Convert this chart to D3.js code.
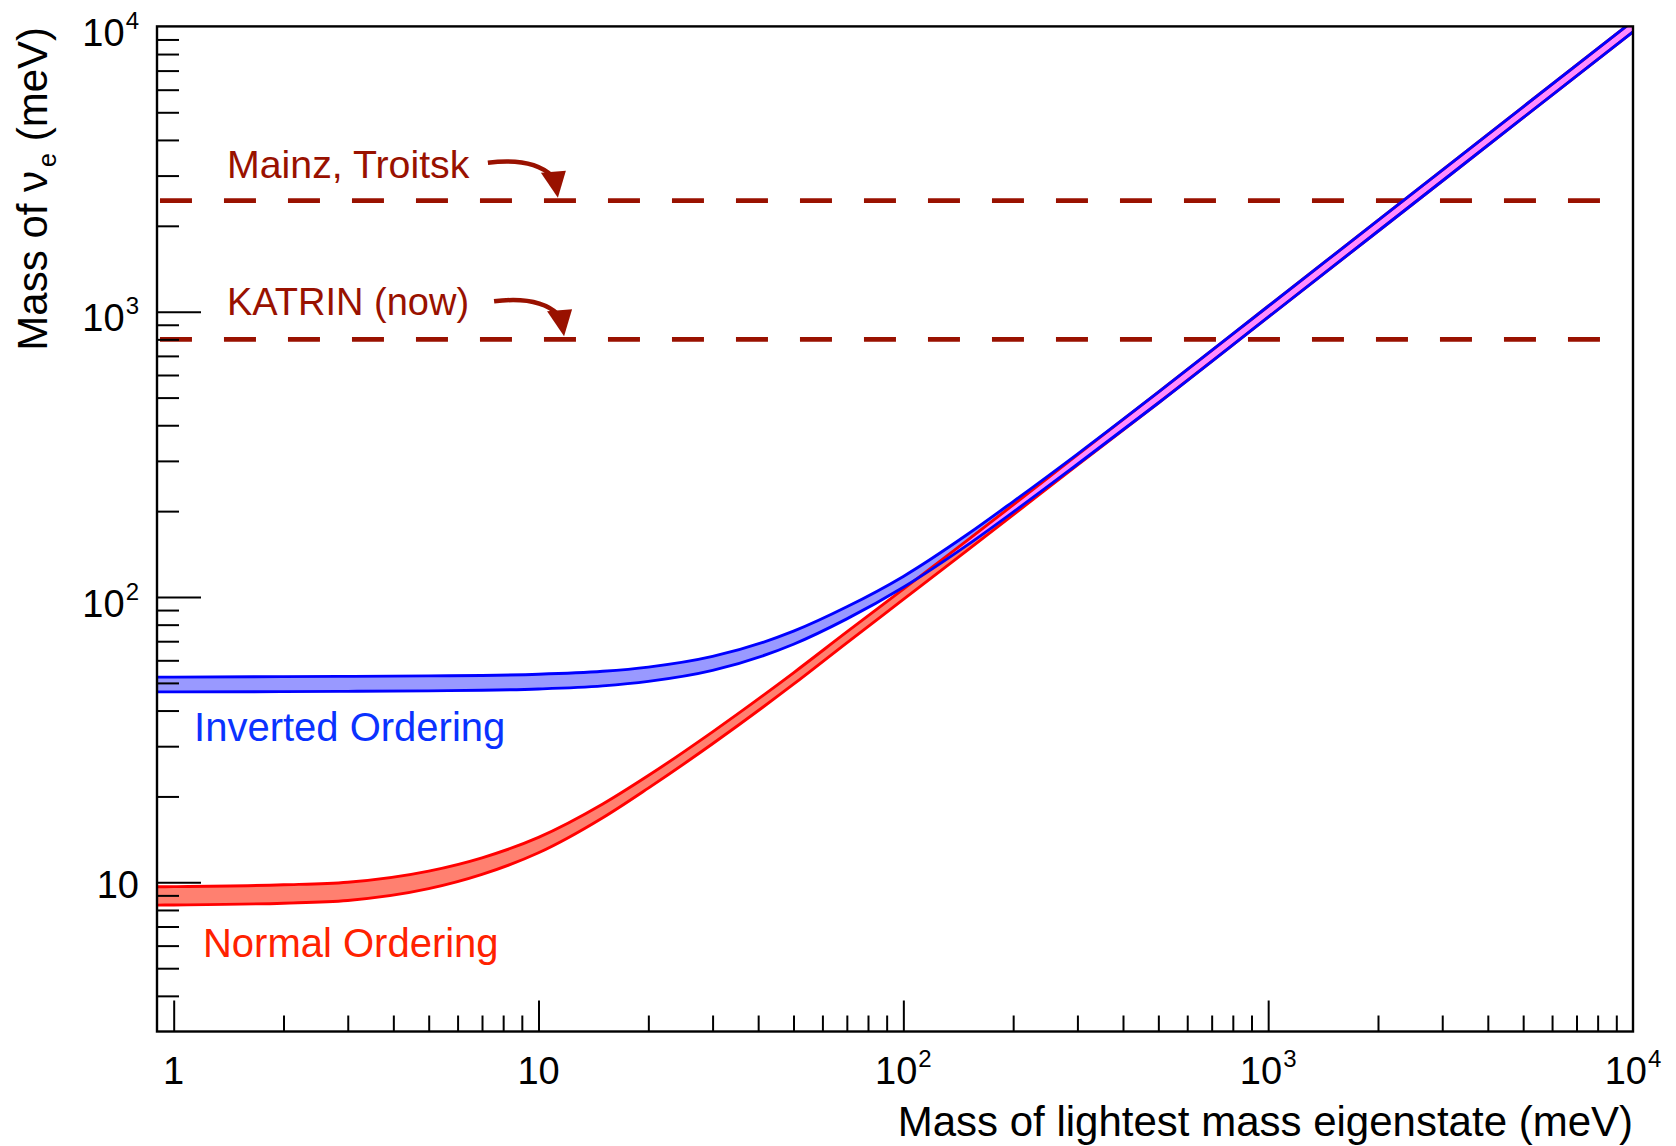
<!DOCTYPE html>
<html><head><meta charset="utf-8">
<script src="https://cdn.jsdelivr.net/npm/d3@7"></script>
<style>
body{margin:0;background:#fff}
svg{display:block}
text{font-family:"Liberation Sans",Arial,Helvetica,sans-serif}
</style>
</head><body>
<svg id="c" width="1676" height="1146"></svg>
<script>
// ---- data ----
const lightestMass   = [0.9, 1, 2, 3, 5, 7, 10, 15, 20, 30, 50, 70, 100, 150, 200, 300, 500, 1000, 2000, 5000, 10000];
const normalLower    = [8.32, 8.33, 8.45, 8.64, 9.50, 10.66, 12.69, 16.84, 21.39, 30.59, 49.47, 69.11, 98.05, 146.0, 194.0, 290.0, 478.6, 957, 1914, 4786, 9572];
const normalUpper    = [9.65, 9.66, 9.80, 10.01, 10.95, 12.19, 14.37, 18.81, 23.67, 33.69, 54.24, 75.43, 106.5, 158.3, 210.3, 315.0, 522.4, 1045, 2089, 5224, 10447];
const invertedLower  = [46.5, 46.5, 46.6, 46.7, 46.9, 47.1, 47.6, 48.8, 50.6, 55.3, 68.3, 83.8, 108.2, 152.3, 198.5, 292.0, 478.6, 957, 1914, 4786, 9572];
const invertedUpper  = [52.4, 52.4, 52.6, 52.7, 52.9, 53.1, 53.6, 54.9, 56.8, 61.9, 75.9, 92.4, 118.1, 165.9, 216.0, 317.0, 522.4, 1045, 2089, 5224, 10447];

const limitNames   = ["Mainz, Troitsk", "KATRIN (now)"];
const limitValues  = [2450, 800];
const limitRange   = [0.917, 8130];
const limitLabelX  = [1.4, 1.4];
const limitLabelY  = [2935, 973];
const limitArrowX  = [11.3, 11.75];

const bandNames    = ["Inverted Ordering", "Normal Ordering"];
const bandLabelX   = [1.137, 1.203];
const bandLabelY   = [31.3, 5.48];

const xDomain = [0.9, 10000];
const yDomain = [3, 10000];
const xMajor = [1, 10, 100, 1000, 10000];
const xTickLabels = [["1",""],["10",""],["10","2"],["10","3"],["10","4"]];
const yMajor = [10, 100, 1000, 10000];
const yTickLabels = [["10",""],["10","2"],["10","3"],["10","4"]];
const xTitle = "Mass of lightest mass eigenstate (meV)";

// ---- drawing ----
const svg = d3.select('#c');
const M = {left:157, right:1633, top:26.4, bottom:1031.5};
const x = d3.scaleLog().domain(xDomain).range([M.left, M.right]);
const y = d3.scaleLog().domain(yDomain).range([M.bottom, M.top]);

const defs = svg.append('defs');
defs.append('clipPath').attr('id','plotClip').append('rect')
  .attr('x',M.left).attr('y',M.top).attr('width',M.right-M.left).attr('height',M.bottom-M.top);

const no = lightestMass.map((m,i)=>({m, lo:normalLower[i], hi:normalUpper[i]}));
const io = lightestMass.map((m,i)=>({m, lo:invertedLower[i], hi:invertedUpper[i]}));
const area = d3.area().x(d=>x(d.m)).y0(d=>y(d.lo)).y1(d=>y(d.hi)).curve(d3.curveMonotoneX);
const lineLo = d3.line().x(d=>x(d.m)).y(d=>y(d.lo)).curve(d3.curveMonotoneX);
const lineHi = d3.line().x(d=>x(d.m)).y(d=>y(d.hi)).curve(d3.curveMonotoneX);
defs.append('clipPath').attr('id','noClip').append('path').attr('d', area(no));

const DARK = '#991100';
const g = svg.append('g').attr('clip-path','url(#plotClip)');

// limit lines
limitValues.forEach(v=>{
  g.append('line').attr('x1',x(limitRange[0])).attr('x2',x(limitRange[1]))
   .attr('y1',y(v)).attr('y2',y(v))
   .attr('stroke',DARK).attr('stroke-width',4.6).attr('stroke-dasharray','32,32');
});

// bands
g.append('path').attr('d',area(no)).attr('fill','#ff8070');
g.append('path').attr('d',area(io)).attr('fill','#9999ff');
g.append('path').attr('d',area(io)).attr('fill','#ff8cff').attr('clip-path','url(#noClip)');
[lineLo,lineHi].forEach(l=>g.append('path').attr('d',l(no)).attr('fill','none').attr('stroke','#ff0000').attr('stroke-width',2.9));
[lineLo,lineHi].forEach(l=>g.append('path').attr('d',l(io)).attr('fill','none').attr('stroke','#0000ff').attr('stroke-width',2.9));

// axes ticks
const isMajor = v => Math.abs(Math.log10(v) - Math.round(Math.log10(v))) < 1e-9;
const xMinor = x.ticks().filter(v=>!isMajor(v) && x(v)>M.left+1 && x(v)<M.right-1);
const yMinor = y.ticks().filter(v=>!isMajor(v) && y(v)<M.bottom-1 && y(v)>M.top+1);

function styleAxis(sel){
  sel.select('.domain').remove();
  sel.selectAll('line').attr('stroke','#000').attr('stroke-width',2);
  sel.selectAll('text').remove();
}
svg.append('g').attr('transform',`translate(0,${M.bottom})`)
  .call(d3.axisBottom(x).tickValues(xMinor).tickSize(-16).tickFormat('')).call(styleAxis);
svg.append('g').attr('transform',`translate(0,${M.bottom})`)
  .call(d3.axisBottom(x).tickValues(xMajor.filter(v=>v<xDomain[1])).tickSize(-31).tickFormat('')).call(styleAxis);
svg.append('g').attr('transform',`translate(${M.left},0)`)
  .call(d3.axisLeft(y).tickValues(yMinor).tickSize(-22).tickFormat('')).call(styleAxis);
svg.append('g').attr('transform',`translate(${M.left},0)`)
  .call(d3.axisLeft(y).tickValues(yMajor.filter(v=>v<yDomain[1])).tickSize(-44).tickFormat('')).call(styleAxis);

// frame
svg.append('rect').attr('x',M.left).attr('y',M.top).attr('width',M.right-M.left).attr('height',M.bottom-M.top)
  .attr('fill','none').attr('stroke','#000').attr('stroke-width',2.4);

// tick labels
xMajor.forEach((v,i)=>{
  const t = svg.append('text').attr('x',x(v)).attr('y',M.bottom+52.5).attr('text-anchor','middle')
    .attr('font-size',38).attr('fill','#000');
  t.append('tspan').text(xTickLabels[i][0]);
  if (xTickLabels[i][1]) t.append('tspan').attr('font-size',24).attr('dy',-17).attr('dx',1).text(xTickLabels[i][1]);
});
yMajor.forEach((v,i)=>{
  const sup = yTickLabels[i][1];
  const t = svg.append('text').attr('x',M.left-18).attr('y',y(v)+(sup?19.5:15.5)).attr('text-anchor','end')
    .attr('font-size',38).attr('fill','#000');
  t.append('tspan').text(yTickLabels[i][0]);
  if (sup) t.append('tspan').attr('font-size',24).attr('dy',-17).attr('dx',1).text(sup);
});

// axis titles
svg.append('text').attr('x',M.right).attr('y',M.bottom+104).attr('text-anchor','end')
  .attr('font-size',42).attr('fill','#000').text(xTitle);
const yt = svg.append('text').attr('transform','translate(46.5,27) rotate(-90)').attr('text-anchor','end')
  .attr('font-size',42).attr('fill','#000');
yt.append('tspan').text('Mass of \u03bd');
yt.append('tspan').attr('font-size',25).attr('dy',9).attr('dx',4).text('e');
yt.append('tspan').attr('dy',-9).text(' (meV)');

// limit labels and arrows
const limitFont = [39.3, 38];
limitNames.forEach((name,i)=>{
  svg.append('text').attr('x',x(limitLabelX[i])).attr('y',y(limitLabelY[i]))
    .attr('font-size',limitFont[i]).attr('fill',DARK).text(name);
  const tx = x(limitArrowX[i]), ty = y(limitValues[i]) - 3;
  const a = svg.append('g').attr('transform',`translate(${tx},${ty})`);
  a.append('path').attr('d','M-70,-35 C-46,-38 -22,-37 -6,-22').attr('fill','none')
    .attr('stroke',DARK).attr('stroke-width',4.5);
  a.append('path').attr('d','M-17,-25 L8,-27 L0,0 Z').attr('fill',DARK);
});

// band labels
const bandColors = ['#0a32ff', '#ff2200'];
bandNames.forEach((name,i)=>{
  svg.append('text').attr('x',x(bandLabelX[i])).attr('y',y(bandLabelY[i]))
    .attr('font-size',40).attr('fill',bandColors[i]).text(name);
});
</script>
</body></html>
